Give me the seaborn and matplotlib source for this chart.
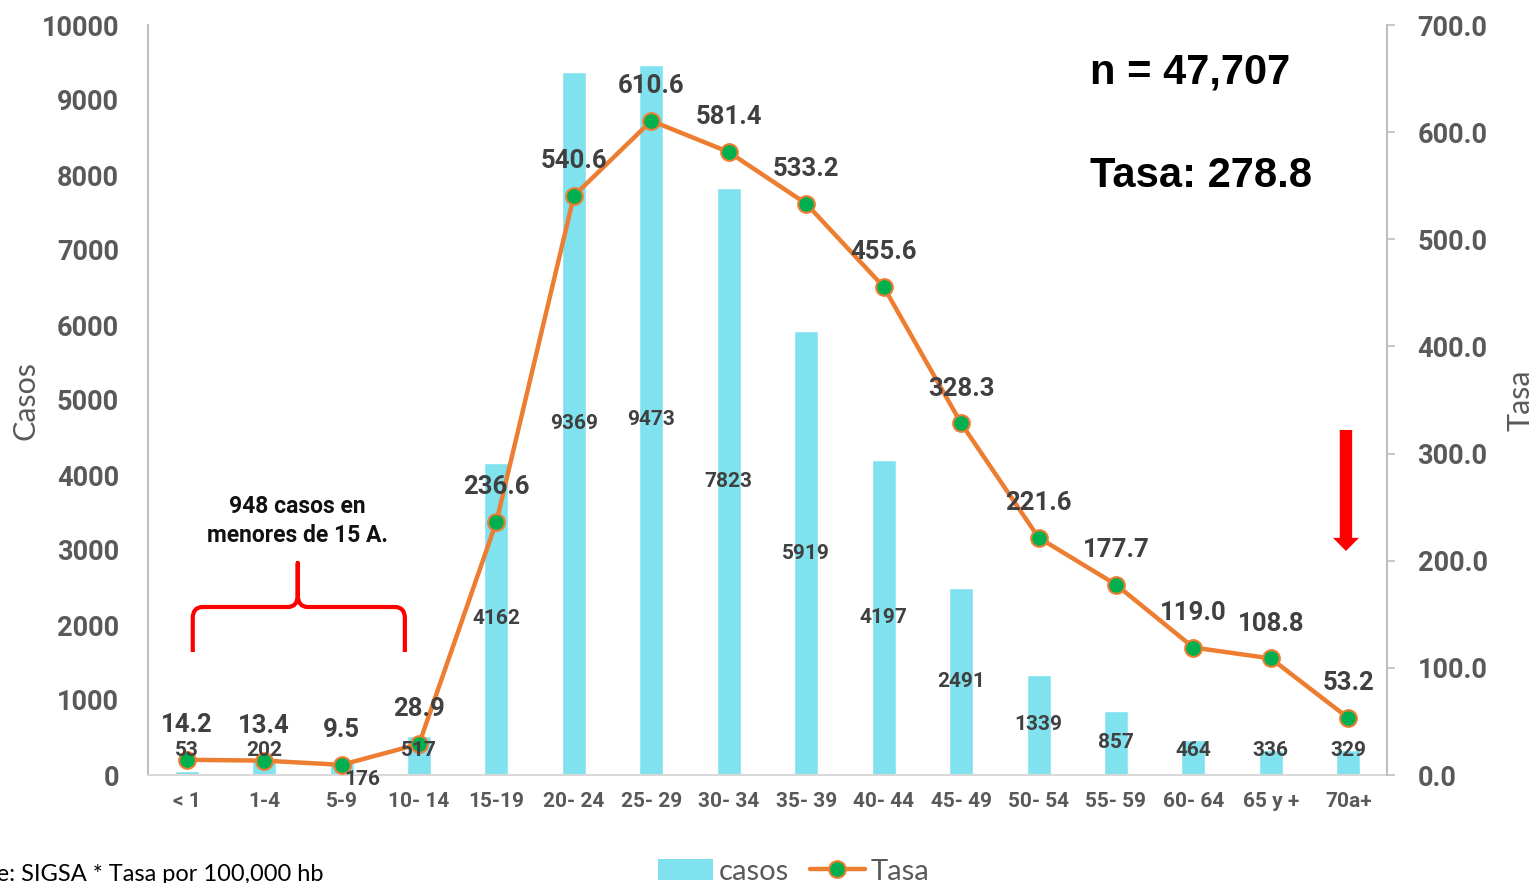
import numpy as np
import pandas as pd
import seaborn as sns
import matplotlib.pyplot as plt
from matplotlib.path import Path
from matplotlib.patches import PathPatch, Patch, FancyArrow
from matplotlib.lines import Line2D

sns.set_theme(style="white")
plt.rcParams['font.family'] = ['Lato', 'DejaVu Sans']
negrita = ['Roboto', 'DejaVu Sans']

# Datos
grupos = ["< 1", "1-4", "5-9", "10- 14", "15-19", "20- 24", "25- 29", "30- 34",
          "35- 39", "40- 44", "45- 49", "50- 54", "55- 59", "60- 64", "65 y +", "70a+"]
casos = [53, 202, 176, 517, 4162, 9369, 9473, 7823, 5919, 4197, 2491, 1339, 857, 464, 336, 329]
tasa = [14.2, 13.4, 9.5, 28.9, 236.6, 540.6, 610.6, 581.4, 533.2, 455.6, 328.3, 221.6,
        177.7, 119.0, 108.8, 53.2]

df = pd.DataFrame({"grupo": grupos, "casos": casos, "tasa": tasa})

color_barra = "#80E2EE"
naranja = "#ED7D31"
verde = "#00B050"
gris = "#595959"
gris_osc = "#404040"

fig = plt.figure(figsize=(15.35, 8.83), dpi=100)
ax = fig.add_axes([148 / 1535, 1 - 775 / 883, (1387 - 148) / 1535, 750 / 883])

sns.barplot(data=df, x="grupo", y="casos", color=color_barra, width=0.31,
            saturation=1, ax=ax)
ax.set_xlim(-0.5, 15.5)
ax.set_ylim(0, 10000)
ax.set_yticks(np.arange(0, 10001, 1000))
ax.set_xlabel("")
ax.set_ylabel("")
ax.tick_params(axis="y", length=0, pad=21, labelsize=19.5, labelcolor=gris)
ax.tick_params(axis="x", length=0, pad=12, labelsize=15, labelcolor=gris)
for lab in ax.get_yticklabels() + ax.get_xticklabels():
    lab.set_fontweight("bold")
    lab.set_family(negrita)
for s in ["top", "right"]:
    ax.spines[s].set_visible(False)
ax.spines["left"].set_color("#BFBFBF")
ax.spines["left"].set_linewidth(1.5)
ax.spines["bottom"].set_color("#D9D9D9")
ax.spines["bottom"].set_linewidth(1.5)

ax2 = ax.twinx()
sns.lineplot(x=np.arange(len(tasa)), y=tasa, ax=ax2, color=naranja, linewidth=3.2,
             marker="o", markersize=12, markerfacecolor=verde,
             markeredgecolor=naranja, markeredgewidth=1.5)
ax2.set_ylim(0, 700)
ax2.set_yticks(np.arange(0, 701, 100))
ax2.set_yticklabels([f"{v:.1f}" for v in np.arange(0, 701, 100)])
ax2.tick_params(axis="y", length=6, width=1.2, color="#BFBFBF", pad=16,
                labelsize=19.5, labelcolor=gris, right=True)
for lab in ax2.get_yticklabels():
    lab.set_fontweight("bold")
    lab.set_family(negrita)
for s in ["top", "left", "bottom"]:
    ax2.spines[s].set_visible(False)
ax2.spines["right"].set_color("#BFBFBF")
ax2.spines["right"].set_linewidth(1.5)
ax2.set_ylabel("")

# etiquetas de tasa
for i, t in enumerate(tasa):
    ax2.annotate(f"{t:.1f}", (i, t), xytext=(0, 25), textcoords="offset points",
                 ha="center", va="center", fontsize=18.5, fontweight="bold",
                 family=negrita, color=gris_osc)

# etiquetas de casos (encima de la linea)
for i, c in enumerate(casos):
    y = max(c / 2, 330)
    x = i
    if i == 2:
        x, y = i + 0.27, -60
    ax2.text(x, y, f"{c}", transform=ax.transData, ha="center", va="center",
             fontsize=15, fontweight="bold", family=negrita, color=gris_osc)

# llave roja
verts = [(0.078, 1640), (0.078, 2093), (0.078, 2240), (0.207, 2240),
         (1.305, 2240), (1.434, 2240), (1.434, 2400), (1.434, 2827),
         (1.434, 2400), (1.434, 2240), (1.563, 2240), (2.687, 2240),
         (2.817, 2240), (2.817, 2093), (2.817, 1640)]
codes = [Path.MOVETO, Path.LINETO, Path.CURVE3, Path.CURVE3,
         Path.LINETO, Path.CURVE3, Path.CURVE3, Path.LINETO,
         Path.LINETO, Path.CURVE3, Path.CURVE3, Path.LINETO,
         Path.CURVE3, Path.CURVE3, Path.LINETO]
ax.add_patch(PathPatch(Path(verts, codes), fill=False, edgecolor="#FF0000",
                       linewidth=3, capstyle="butt", joinstyle="round"))
ax.text(1.434, 3387, "948 casos en\nmenores de 15 A.", ha="center", va="center",
        fontsize=16.5, fontweight="bold", family=negrita, color="#111111",
        linespacing=1.35)

# flecha roja
ax.add_patch(FancyArrow(14.97, 4600, 0, -1613, width=0.16, head_width=0.336,
                        head_length=175, length_includes_head=True,
                        color="#FF0000", linewidth=0))

# textos
fig.text(1090 / 1535, 1 - 83 / 883, "n = 47,707", fontsize=30, fontweight="bold",
         family=["Liberation Sans", "DejaVu Sans"], color="black", va="baseline")
fig.text(1090 / 1535, 1 - 187 / 883, "Tasa: 278.8", fontsize=30, fontweight="bold",
         family=["Liberation Sans", "DejaVu Sans"], color="black", va="baseline")
fig.text(25 / 1535, 1 - 400 / 883, "Casos", rotation=90, ha="center", va="center",
         fontsize=22, color=gris)
fig.text(1520 / 1535, 1 - 400 / 883, "Tasa", rotation=90, ha="center", va="center",
         fontsize=22, color=gris)
fig.text(323 / 1535, 2 / 883, "Fuente: SIGSA * Tasa por 100,000 hb", ha="right",
         va="baseline", fontsize=17, color="black")

# leyenda
handles = [Patch(facecolor=color_barra, edgecolor="none"),
           Line2D([0], [0], color=naranja, linewidth=3.2, marker="o", markersize=12,
                  markerfacecolor=verde, markeredgecolor=naranja, markeredgewidth=1.5)]
leg = fig.legend(handles, ["casos", "Tasa"], loc="center", bbox_to_anchor=(0.517, 0.013),
                 ncol=2, frameon=False, fontsize=21, handlelength=1.9,
                 handletextpad=0.2, columnspacing=0.7, borderpad=0)
for t in leg.get_texts():
    t.set_color(gris)

fig.savefig("out.png", dpi=100)
